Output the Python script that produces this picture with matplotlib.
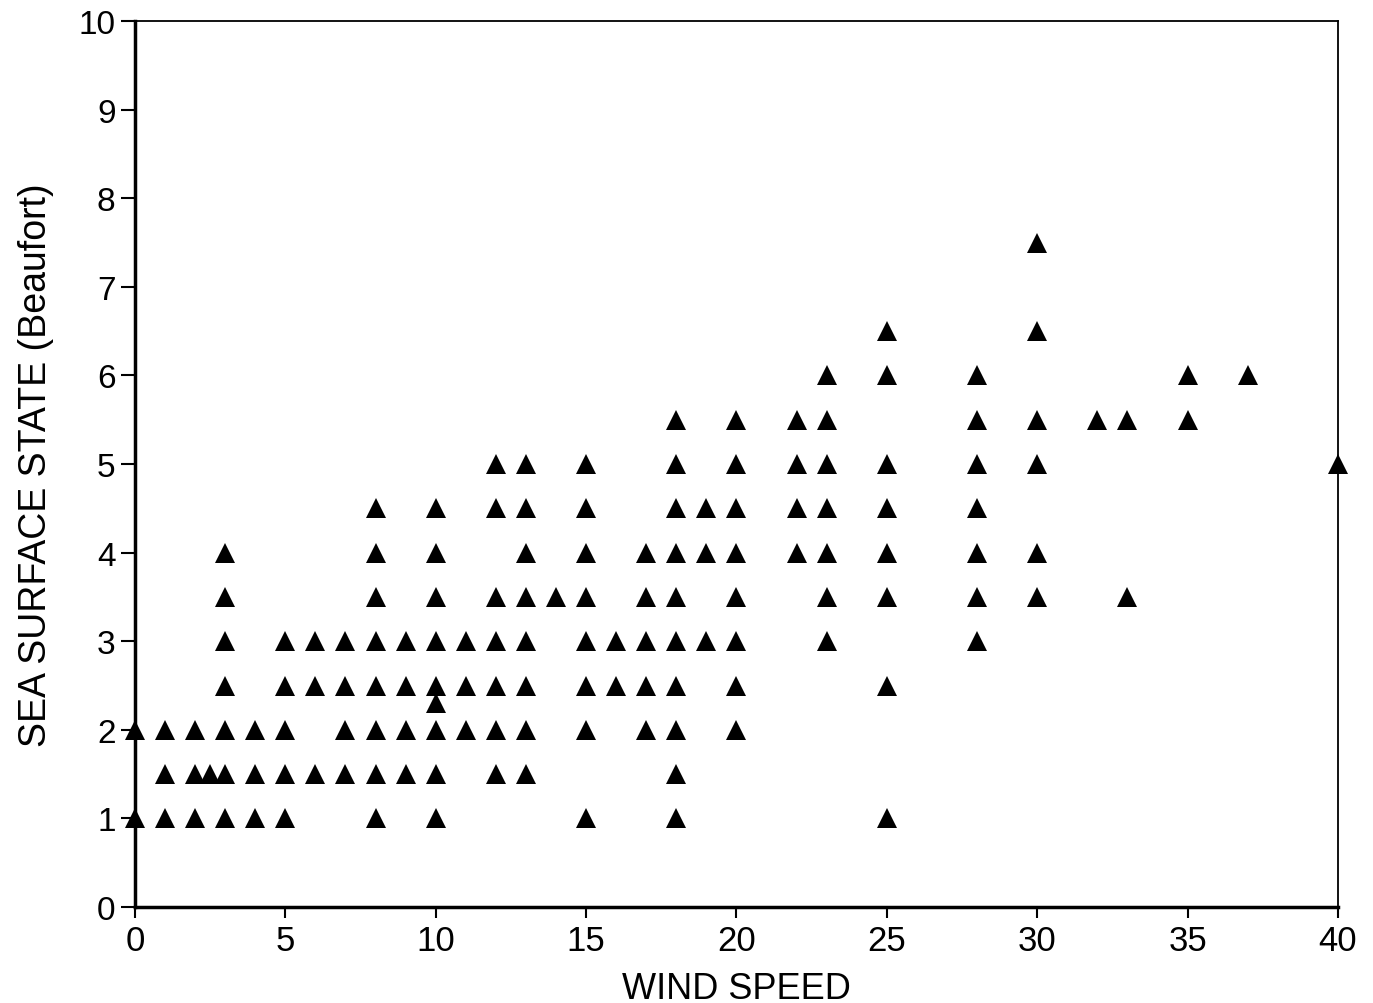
import matplotlib.pyplot as plt
import matplotlib.font_manager as fm

# 字体：窄体用于横轴与轴标题
names = {f.name for f in fm.fontManager.ttflist}
narrow = 'Liberation Sans Narrow' if 'Liberation Sans Narrow' in names else 'Liberation Sans'
plt.rcParams['font.family'] = ['Liberation Sans', 'DejaVu Sans']

# 风速与对应的海面状态 (Beaufort)
wind_speed = [
    0, 0,
    1, 1, 1,
    2, 2, 2,
    2.5,
    3, 3, 3, 3, 3, 3, 3,
    4, 4, 4,
    5, 5, 5, 5, 5,
    6, 6, 6,
    7, 7, 7, 7,
    8, 8, 8, 8, 8, 8, 8, 8,
    9, 9, 9, 9,
    10, 10, 10, 10, 10, 10, 10, 10, 10,
    11, 11, 11,
    12, 12, 12, 12, 12, 12, 12,
    13, 13, 13, 13, 13, 13, 13, 13,
    14,
    15, 15, 15, 15, 15, 15, 15, 15,
    16, 16,
    17, 17, 17, 17, 17,
    18, 18, 18, 18, 18, 18, 18, 18, 18, 18,
    19, 19, 19,
    20, 20, 20, 20, 20, 20, 20, 20,
    22, 22, 22, 22,
    23, 23, 23, 23, 23, 23, 23,
    25, 25, 25, 25, 25, 25, 25, 25,
    28, 28, 28, 28, 28, 28, 28,
    30, 30, 30, 30, 30, 30,
    32,
    33, 33,
    35, 35,
    37,
    40,
]
sea_state = [
    2, 1,
    2, 1.5, 1,
    2, 1.5, 1,
    1.5,
    4, 3.5, 3, 2.5, 2, 1.5, 1,
    2, 1.5, 1,
    3, 2.5, 2, 1.5, 1,
    3, 2.5, 1.5,
    3, 2.5, 2, 1.5,
    4.5, 4, 3.5, 3, 2.5, 2, 1.5, 1,
    3, 2.5, 2, 1.5,
    4.5, 4, 3.5, 3, 2.5, 2.3, 2, 1.5, 1,
    3, 2.5, 2,
    5, 4.5, 3.5, 3, 2.5, 2, 1.5,
    5, 4.5, 4, 3.5, 3, 2.5, 2, 1.5,
    3.5,
    5, 4.5, 4, 3.5, 3, 2.5, 2, 1,
    3, 2.5,
    4, 3.5, 3, 2.5, 2,
    5.5, 5, 4.5, 4, 3.5, 3, 2.5, 2, 1.5, 1,
    4.5, 4, 3,
    5.5, 5, 4.5, 4, 3.5, 3, 2.5, 2,
    5.5, 5, 4.5, 4,
    6, 5.5, 5, 4.5, 4, 3.5, 3,
    6.5, 6, 5, 4.5, 4, 3.5, 2.5, 1,
    6, 5.5, 5, 4.5, 4, 3.5, 3,
    7.5, 6.5, 5.5, 5, 4, 3.5,
    5.5,
    5.5, 3.5,
    6, 5.5,
    6,
    5,
]

x_ticks = [0, 5, 10, 15, 20, 25, 30, 35, 40]
y_ticks = [0, 1, 2, 3, 4, 5, 6, 7, 8, 9, 10]

fig = plt.figure(figsize=(13.73, 10.04), dpi=100)
ax = fig.add_axes([0.0983, 0.0956, 0.8762, 0.8824])

ax.plot(wind_speed, sea_state, linestyle='none', marker='^', markersize=14,
        color='black', markeredgewidth=0, clip_on=False, zorder=3)

ax.set_xlim(0, 40)
ax.set_ylim(0, 10)
ax.set_xticks(x_ticks)
ax.set_yticks(y_ticks)

ax.tick_params(axis='y', direction='out', length=10, width=1.5, labelsize=24, pad=4)
ax.tick_params(axis='x', direction='out', length=8, width=1.5, labelsize=25, pad=4)
for lab in ax.get_xticklabels():
    lab.set_family(narrow)

ax.spines['left'].set_linewidth(2.5)
ax.spines['bottom'].set_linewidth(2.5)
ax.spines['top'].set_linewidth(1.3)
ax.spines['right'].set_linewidth(1.3)

ax.set_xlabel('WIND SPEED', fontsize=26, family=narrow, labelpad=10)
ax.set_ylabel('SEA SURFACE STATE (Beaufort)', fontsize=27, family=narrow, labelpad=18)

fig.savefig('out.png', dpi=100, facecolor='white')
